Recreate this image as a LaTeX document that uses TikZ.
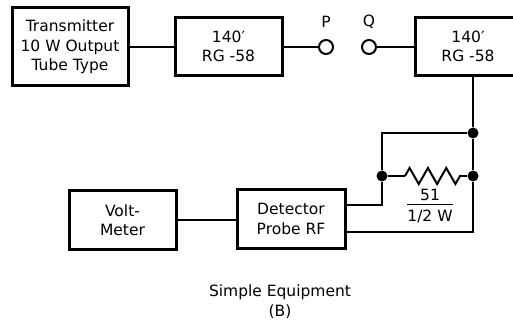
\documentclass[tikz,border=0pt]{standalone}
\usepackage{fontspec}
\setmainfont{DejaVu Sans}
\usetikzlibrary{decorations.pathmorphing}
\begin{document}
\begin{tikzpicture}[x=1pt,y=-1pt,
  font=\fontsize{15.5}{19.5}\selectfont,
  box/.style={draw, line width=3pt, align=center, inner sep=0pt},
  term/.style={draw, circle, line width=2pt, minimum size=14pt, inner sep=0pt},
  dot/.style={circle, fill, minimum size=11pt, inner sep=0pt},
  wire/.style={line width=2pt}]
\useasboundingbox (0,0) rectangle (513,320);
\node[box, minimum width=116pt, minimum height=78pt] (tx) at (70,47) {Transmitter\\10 W Output\\Tube Type};
\node[box, minimum width=107pt, minimum height=58pt] (c1) at (228.5,46.5) {140′\\RG -58};
\node[term] (p) at (326,47) {};
\node[term] (q) at (369,47) {};
\node (pl) at (326,22) {P};
\node (ql) at (369,22) {Q};
\node[box, minimum width=106pt, minimum height=58pt] (c2) at (468,46.5) {140′\\RG -58};
\node[dot] (j1) at (473,133) {};
\node[dot] (j2) at (473,176) {};
\node[dot] (j3) at (382,176) {};
\coordinate (rl) at (405,176);
\coordinate (rr) at (460,176);
\node (rv) at (430,207) {\setlength{\arrayrulewidth}{1.5pt}\begin{tabular}{@{}c@{}}51\\[-3pt]\hline\rule{0pt}{16pt}1/2 W\end{tabular}};
\node[box, minimum width=108pt, minimum height=58pt] (det) at (291,219) {Detector\\Probe RF};
\node[box, minimum width=107pt, minimum height=58pt] (vm) at (122.5,220) {Volt-\\Meter};
\coordinate (d1) at (345,205);
\coordinate (d2) at (345,232);
\node[align=center] (cap) at (280,301.5) {Simple Equipment\\(B)};

\draw[wire] (tx.east) -- (tx.east -| c1.west);
\draw[wire] (c1.east |- p) -- (p);
\draw[wire] (q) -- (q -| c2.west);
\draw[wire] (j1 |- c2.south) -- (j1);
\draw[wire] (j1) -- (j2);
\draw[wire] (j1) -| (j3);
\draw[wire] (j3) -- (rl);
\draw[wire, decorate, decoration={zigzag, segment length=18.33pt, amplitude=8pt}] (rl) -- (rr);
\draw[wire] (rr) -- (j2);
\draw[wire] (j3) |- (d1);
\draw[wire] (j2) |- (d2);
\draw[wire] (vm.east) -- (vm.east -| det.west);
\end{tikzpicture}
\end{document}
